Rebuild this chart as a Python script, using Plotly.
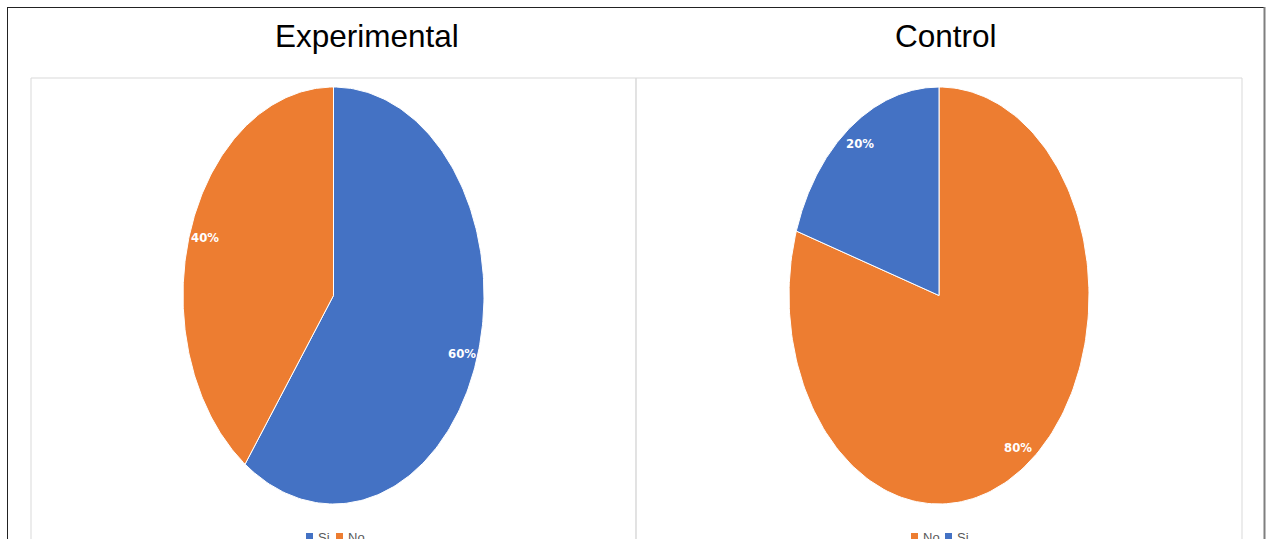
import math
import plotly.graph_objects as go

# --- data -------------------------------------------------------------
titles = ["Experimental", "Control"]
exp_labels = ["Si", "No"]
exp_values = [60, 40]
ctrl_labels = ["No", "Si"]
ctrl_values = [80, 20]

COLORS = {"Si": "#4472C4", "No": "#ED7D31"}

# --- layout constants (pixels) ----------------------------------------
W, H = 1269, 539
PANEL_TOP = 78
PANELS = [(31, 636), (636, 1242)]          # x extent of each panel
CENTERS_X = [333.5, 939.0]                 # pie centre x
CENTER_Y = 295.5
RX = [150.5, 150.0]                        # horizontal radius
RY = 208.5                                 # vertical radius
TITLE_X = [367, 946]
TITLE_Y = 36


def px(x):
    return x / W


def py(y):
    return 1 - y / H


def wedge(start_frac, end_frac, n=200):
    """Polygon of a slice on a unit circle, clockwise from 12 o'clock."""
    xs, ys = [0.0], [0.0]
    for i in range(n + 1):
        t = 2 * math.pi * (start_frac + (end_frac - start_frac) * i / n)
        xs.append(math.sin(t))
        ys.append(math.cos(t))
    xs.append(0.0)
    ys.append(0.0)
    return xs, ys


fig = go.Figure()
annotations = []
shapes = []

datasets = [(exp_labels, exp_values), (ctrl_labels, ctrl_values)]
for k, (labels, values) in enumerate(datasets):
    xa = "x" if k == 0 else "x2"
    ya = "y" if k == 0 else "y2"
    total = sum(values)
    acc = 0.0
    for lab, val in zip(labels, values):
        f0 = acc / total
        f1 = (acc + val) / total
        xs, ys = wedge(f0, f1)
        fig.add_trace(go.Scatter(
            x=xs, y=ys, mode="lines", fill="toself",
            fillcolor=COLORS[lab], line=dict(color="white", width=1),
            xaxis=xa, yaxis=ya, hoverinfo="skip", showlegend=False,
        ))
        mid = 2 * math.pi * (f0 + f1) / 2
        annotations.append(dict(
            x=0.9 * math.sin(mid), y=0.9 * math.cos(mid), xref=xa, yref=ya,
            text=f"<b>{val / total * 100:.0f}%</b>", showarrow=False,
            font=dict(family="DejaVu Sans Condensed, Liberation Sans Narrow, Arial Narrow",
                      size=13, color="white"),
            xanchor="center", yanchor="middle",
        ))
        acc += val

    # title
    annotations.append(dict(
        x=px(TITLE_X[k]), y=py(TITLE_Y), xref="paper", yref="paper",
        text=titles[k], showarrow=False,
        font=dict(family="Liberation Sans, Arial", size=31.5, color="black"),
        xanchor="center", yanchor="middle",
    ))

    # panel frame
    x0, x1 = PANELS[k]
    shapes.append(dict(type="rect", xref="paper", yref="paper",
                       x0=px(x0), x1=px(x1), y0=py(H + 5), y1=py(PANEL_TOP),
                       line=dict(color="#D9D9D9", width=1), fillcolor="rgba(0,0,0,0)"))

# axes for the two pies (unit circle stretched by the axis scales)
for k in range(2):
    x0, x1 = PANELS[k]
    cx = CENTERS_X[k]
    xr = [(x0 - cx) / RX[k], (x1 - cx) / RX[k]]
    yr = [-(H - CENTER_Y) / RY, (CENTER_Y - PANEL_TOP) / RY]
    common = dict(visible=False, showgrid=False, zeroline=False, fixedrange=True)
    suffix = "" if k == 0 else "2"
    fig.update_layout(**{
        f"xaxis{suffix}": dict(domain=[px(x0), px(x1)], range=xr, **common),
        f"yaxis{suffix}": dict(domain=[0, py(PANEL_TOP)], range=yr,
                               anchor=f"x{suffix}", **common),
    })
fig.layout.yaxis2.anchor = "x2"
fig.layout.xaxis2.anchor = "y2"

# legends below each pie (cut by the bottom edge of the page)
legend_y = 537
legend_items = [
    [(306, exp_labels[0]), (336, exp_labels[1])],
    [(911, ctrl_labels[0]), (945, ctrl_labels[1])],
]
for items in legend_items:
    for lx, lab in items:
        shapes.append(dict(type="rect", xref="paper", yref="paper",
                           x0=px(lx), x1=px(lx + 7), y0=py(legend_y + 4), y1=py(legend_y - 4),
                           fillcolor=COLORS[lab], line=dict(width=0)))
        annotations.append(dict(
            x=px(lx + 10), y=py(legend_y), xref="paper", yref="paper",
            text=lab, showarrow=False, xanchor="left", yanchor="middle",
            font=dict(family="Liberation Sans, Arial", size=13, color="#595959"),
        ))

# outer border
shapes.append(dict(type="line", xref="paper", yref="paper",
                   x0=px(7.5), x1=px(7.5), y0=py(H + 5), y1=py(7),
                   line=dict(color="#222222", width=1)))
shapes.append(dict(type="line", xref="paper", yref="paper",
                   x0=px(7), x1=px(1265), y0=py(7.5), y1=py(7.5),
                   line=dict(color="#222222", width=1)))
shapes.append(dict(type="line", xref="paper", yref="paper",
                   x0=px(1264.5), x1=px(1264.5), y0=py(H + 5), y1=py(7),
                   line=dict(color="#7F7F7F", width=2)))

fig.update_layout(
    width=W, height=H, autosize=False,
    margin=dict(l=0, r=0, t=0, b=0),
    paper_bgcolor="white", plot_bgcolor="white",
    showlegend=False,
    annotations=annotations, shapes=shapes,
)

fig.write_html("out.html")
